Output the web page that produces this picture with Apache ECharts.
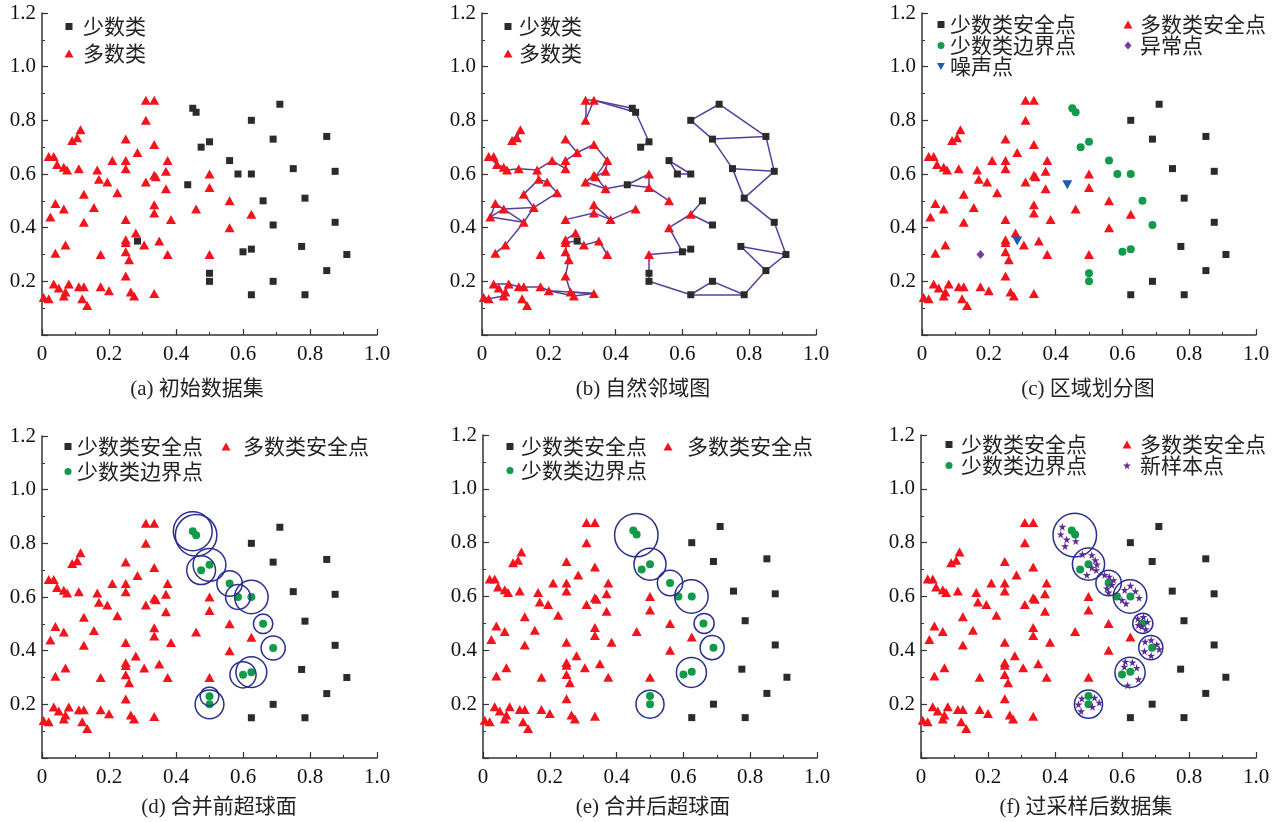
<!DOCTYPE html>
<html><head><meta charset="utf-8">
<script src="https://cdn.jsdelivr.net/npm/echarts@6/dist/echarts.min.js"></script>
<style>html,body{margin:0;padding:0;background:#fff}#c{width:1285px;height:822px}</style>
</head><body><div id="c"></div>
<script>
// ---- data ----
const minoritySafe = [[0.625,0.80],[0.71,0.86],[0.69,0.73],[0.85,0.74],[0.75,0.62],[0.875,0.61],[0.785,0.51],[0.875,0.42],[0.775,0.33],[0.91,0.30],[0.85,0.24],[0.69,0.20],[0.625,0.15],[0.785,0.15]];
const minorityBorder = [[0.45,0.845],[0.46,0.83],[0.475,0.70],[0.50,0.72],[0.56,0.65],[0.585,0.60],[0.625,0.60],[0.66,0.50],[0.69,0.41],[0.60,0.31],[0.625,0.32],[0.50,0.23],[0.50,0.20]];
const noisePoints = [[0.435,0.56],[0.285,0.35]];
const anomalyPoints = [[0.175,0.30]];
const majoritySafe = [[0.31,0.875],[0.335,0.875],[0.31,0.80],[0.115,0.765],[0.105,0.735],[0.09,0.725],[0.25,0.73],[0.335,0.71],
[0.02,0.665],[0.035,0.665],[0.045,0.635],[0.065,0.625],[0.075,0.615],[0.11,0.62],[0.165,0.615],[0.17,0.58],[0.195,0.57],[0.21,0.65],[0.25,0.65],[0.25,0.62],[0.285,0.68],[0.375,0.65],[0.37,0.61],[0.335,0.595],[0.34,0.59],[0.31,0.57],[0.37,0.545],[0.225,0.53],[0.125,0.525],
[0.04,0.49],[0.065,0.47],[0.025,0.44],[0.155,0.475],[0.125,0.42],[0.25,0.43],[0.335,0.485],[0.335,0.455],[0.385,0.43],[0.46,0.47],
[0.50,0.60],[0.50,0.55],[0.56,0.50],[0.625,0.45],[0.56,0.40],[0.50,0.30],
[0.28,0.38],[0.25,0.355],[0.25,0.345],[0.305,0.335],[0.35,0.35],[0.375,0.30],[0.25,0.31],[0.26,0.28],[0.07,0.335],[0.04,0.305],
[0.25,0.22],[0.035,0.19],[0.05,0.175],[0.08,0.19],[0.07,0.16],[0.065,0.145],[0.11,0.18],[0.125,0.18],[0.175,0.18],[0.20,0.165],[0.12,0.135],[0.135,0.11],[0.005,0.14],[0.02,0.135],[0.265,0.16],[0.275,0.145],[0.335,0.155]];
// natural neighbour edges [x1,y1,x2,y2]
const neighbourEdges = [
[0.625,0.80,0.71,0.86],[0.71,0.86,0.85,0.74],[0.625,0.80,0.69,0.73],[0.69,0.73,0.85,0.74],[0.69,0.73,0.75,0.62],[0.85,0.74,0.875,0.61],[0.75,0.62,0.875,0.61],[0.75,0.62,0.785,0.51],[0.875,0.61,0.785,0.51],[0.785,0.51,0.875,0.42],[0.875,0.42,0.91,0.30],[0.775,0.33,0.91,0.30],[0.775,0.33,0.85,0.24],[0.91,0.30,0.85,0.24],[0.85,0.24,0.785,0.15],[0.785,0.15,0.69,0.20],[0.785,0.15,0.625,0.15],[0.69,0.20,0.625,0.15],[0.625,0.15,0.50,0.20],[0.50,0.20,0.50,0.23],[0.50,0.23,0.50,0.30],[0.50,0.30,0.60,0.31],[0.60,0.31,0.625,0.32],[0.60,0.31,0.56,0.40],[0.56,0.40,0.625,0.45],[0.625,0.45,0.66,0.50],[0.625,0.45,0.69,0.41],
[0.56,0.65,0.585,0.60],[0.56,0.65,0.625,0.60],[0.585,0.60,0.625,0.60],
[0.435,0.56,0.50,0.60],[0.435,0.56,0.50,0.55],[0.50,0.60,0.50,0.55],[0.50,0.55,0.56,0.50],[0.435,0.56,0.37,0.545],
[0.31,0.875,0.335,0.875],[0.31,0.875,0.31,0.80],[0.335,0.875,0.31,0.80],[0.335,0.875,0.45,0.845],[0.335,0.875,0.46,0.83],[0.45,0.845,0.46,0.83],[0.46,0.83,0.50,0.72],[0.50,0.72,0.475,0.70],
[0.285,0.68,0.335,0.71],[0.335,0.71,0.375,0.65],[0.375,0.65,0.37,0.61],[0.375,0.65,0.34,0.59],[0.37,0.61,0.34,0.59],[0.31,0.57,0.335,0.595],[0.31,0.57,0.37,0.545],[0.34,0.59,0.37,0.545],
[0.25,0.73,0.285,0.68],[0.285,0.68,0.25,0.65],[0.25,0.65,0.25,0.62],[0.21,0.65,0.25,0.62],[0.21,0.65,0.165,0.615],[0.165,0.615,0.11,0.62],[0.11,0.62,0.075,0.615],[0.075,0.615,0.065,0.625],[0.065,0.625,0.045,0.635],[0.045,0.635,0.035,0.665],[0.02,0.665,0.035,0.665],[0.02,0.665,0.045,0.635],
[0.09,0.725,0.115,0.765],[0.105,0.735,0.115,0.765],
[0.165,0.615,0.17,0.58],[0.17,0.58,0.195,0.57],[0.195,0.57,0.225,0.53],[0.17,0.58,0.125,0.525],[0.125,0.525,0.155,0.475],[0.225,0.53,0.155,0.475],[0.155,0.475,0.065,0.47],[0.04,0.49,0.025,0.44],[0.04,0.49,0.125,0.42],[0.025,0.44,0.125,0.42],[0.065,0.47,0.025,0.44],[0.155,0.475,0.125,0.42],[0.125,0.42,0.07,0.335],[0.07,0.335,0.04,0.305],
[0.25,0.43,0.335,0.455],[0.335,0.485,0.335,0.455],[0.335,0.485,0.385,0.43],[0.335,0.455,0.385,0.43],[0.385,0.43,0.46,0.47],
[0.25,0.355,0.28,0.38],[0.28,0.38,0.285,0.35],[0.25,0.345,0.285,0.35],[0.285,0.35,0.305,0.335],[0.305,0.335,0.35,0.35],[0.35,0.35,0.375,0.30],[0.25,0.345,0.25,0.31],[0.25,0.31,0.26,0.28],[0.26,0.28,0.25,0.22],[0.25,0.22,0.265,0.16],[0.265,0.16,0.275,0.145],
[0.035,0.19,0.08,0.19],[0.035,0.19,0.05,0.175],[0.05,0.175,0.065,0.145],[0.065,0.145,0.07,0.16],[0.07,0.16,0.08,0.19],[0.08,0.19,0.11,0.18],[0.11,0.18,0.125,0.18],[0.125,0.18,0.175,0.18],[0.175,0.18,0.20,0.165],[0.20,0.165,0.275,0.145],[0.20,0.165,0.335,0.155],[0.265,0.16,0.335,0.155],[0.005,0.14,0.02,0.135],[0.02,0.135,0.065,0.145],[0.12,0.135,0.135,0.11],[0.275,0.145,0.335,0.155]
];
// hyperspheres [cx, cy, radius]
const spheresBefore = [[0.45,0.845,0.058],[0.46,0.83,0.062],[0.475,0.70,0.043],[0.50,0.72,0.049],[0.56,0.65,0.038],[0.585,0.60,0.037],[0.625,0.60,0.050],[0.66,0.50,0.029],[0.69,0.41,0.036],[0.60,0.31,0.039],[0.625,0.32,0.046],[0.50,0.23,0.028],[0.50,0.20,0.043]];
const spheresAfter = [[0.459,0.828,0.065],[0.50,0.72,0.048],[0.56,0.65,0.038],[0.624,0.60,0.050],[0.662,0.50,0.030],[0.686,0.41,0.036],[0.624,0.318,0.045],[0.50,0.20,0.042]];
const newSamples = [[0.422,0.859],[0.417,0.831],[0.435,0.812],[0.462,0.806],[0.430,0.787],
[0.482,0.757],[0.510,0.754],[0.520,0.735],[0.525,0.719],[0.510,0.707],[0.523,0.698],[0.495,0.680],
[0.548,0.680],[0.562,0.674],[0.575,0.661],[0.570,0.643],[0.555,0.630],[0.560,0.615],
[0.608,0.624],[0.625,0.640],[0.640,0.620],[0.651,0.595],[0.600,0.587],[0.612,0.574],
[0.647,0.518],[0.664,0.524],[0.676,0.506],[0.659,0.488],[0.671,0.479],[0.649,0.494],
[0.669,0.432],[0.687,0.438],[0.704,0.422],[0.711,0.404],[0.667,0.397],[0.687,0.380],
[0.610,0.358],[0.631,0.355],[0.644,0.335],[0.649,0.293],[0.617,0.270],[0.607,0.339],
[0.480,0.221],[0.470,0.199],[0.478,0.174],[0.518,0.224],[0.532,0.206],[0.512,0.190]];
const captions = ['(a) 初始数据集','(b) 自然邻域图','(c) 区域划分图','(d) 合并前超球面','(e) 合并后超球面','(f) 过采样后数据集'];
const xTicks = ['0','0.2','0.4','0.6','0.8','1.0'];
const yTicks = ['','0.2','0.4','0.6','0.8','1.0','1.2'];

// ---- styles ----
const SERIF = "'Liberation Serif','Times New Roman',serif";
const CJK = "'Noto Sans CJK SC',sans-serif";
const C_MIN = '#2b2b2b', C_MAJ = '#f2141c', C_BOR = '#12994a', C_NOI = '#1a5cb0', C_ANO = '#7b3a9c', C_NEW = '#5b2b96', C_SPH = '#2a2f8f', C_EDGE = '#5a3c9e';
const STAR = 'path://M50,0 L61,35 L98,35 L68,57 L79,91 L50,70 L21,91 L32,57 L2,35 L39,35 Z';
const DOWN = 'path://M0,0 L10,0 L5,9 Z';

const grids = [
  {left:42, top:13, width:335, height:322},
  {left:482, top:13, width:334, height:322},
  {left:922, top:13, width:334, height:322},
  {left:42, top:436, width:335, height:322},
  {left:483, top:435, width:334, height:323},
  {left:921, top:435, width:335, height:323}
];
const capPos = [[197,389],[643,389],[1088,389],[219,807],[653,807],[1086,807]];

const axLine = {show:true, onZero:false, lineStyle:{color:'#333', width:1.5}};
const xAxes = grids.map((g,i)=>({gridIndex:i, type:'value', min:0, max:1, interval:0.2,
  axisLine:axLine, axisTick:{inside:true, length:6, lineStyle:{color:'#333', width:1.2}},
  minorTick:{show:true, splitNumber:2, length:3, lineStyle:{color:'#333', width:1}},
  splitLine:{show:false},
  axisLabel:{margin:9, fontFamily:SERIF, fontSize:21, color:'#111', formatter:(v)=>xTicks[Math.round(v/0.2)]}}));
const yAxes = grids.map((g,i)=>({gridIndex:i, type:'value', min:0, max:1.2, interval:0.2,
  axisLine:axLine, axisTick:{inside:true, length:6, lineStyle:{color:'#333', width:1.2}},
  minorTick:{show:true, splitNumber:2, length:3, lineStyle:{color:'#333', width:1}},
  splitLine:{show:false},
  axisLabel:{margin:6, fontFamily:SERIF, fontSize:21, color:'#111', formatter:(v)=>yTicks[Math.round(v/0.2)]}}));

function sc(i, name, data, symbol, size, color, extra){
  return Object.assign({type:'scatter', name, xAxisIndex:i, yAxisIndex:i, data, symbol, symbolSize:size,
    itemStyle:{color, opacity:1}, z:3, silent:true, animation:false}, extra||{});
}
function spheres(i, data){
  return {type:'custom', xAxisIndex:i, yAxisIndex:i, data, silent:true, z:4, animation:false,
    encode:{x:0, y:1},
    renderItem:(params, api)=>{
      const c = api.coord([api.value(0), api.value(1)]);
      const r = api.size([api.value(2), 0])[0];
      return {type:'circle', shape:{cx:c[0], cy:c[1], r}, style:{fill:'none', stroke:C_SPH, lineWidth:1.5}};
    }};
}
const allMinority = minoritySafe.concat(minorityBorder, noisePoints);
const allMajority = majoritySafe.concat(anomalyPoints);
const TRI = [10,9];

const series = [
  // a
  sc(0,'少数类', allMinority, 'rect', 7, C_MIN),
  sc(0,'多数类', allMajority, 'triangle', TRI, C_MAJ),
  // b
  {type:'lines', coordinateSystem:'cartesian2d', xAxisIndex:1, yAxisIndex:1, silent:true, z:2, animation:false,
    data: neighbourEdges.map(e=>({coords:[[e[0],e[1]],[e[2],e[3]]]})),
    lineStyle:{color:C_EDGE, width:1.5, opacity:1}},
  sc(1,'少数类', allMinority, 'rect', 7, C_MIN),
  sc(1,'多数类', allMajority, 'triangle', TRI, C_MAJ),
  // c
  sc(2,'少数类安全点', minoritySafe, 'rect', 7, C_MIN),
  sc(2,'多数类安全点', majoritySafe, 'triangle', TRI, C_MAJ),
  sc(2,'少数类边界点', minorityBorder, 'circle', 8, C_BOR),
  sc(2,'异常点', anomalyPoints, 'diamond', [8,9], C_ANO),
  sc(2,'噪声点', noisePoints, 'triangle', TRI, C_NOI, {symbolRotate:180}),
  // d
  sc(3,'少数类安全点', minoritySafe, 'rect', 7, C_MIN),
  sc(3,'多数类安全点', allMajority, 'triangle', TRI, C_MAJ),
  sc(3,'少数类边界点', minorityBorder, 'circle', 8, C_BOR),
  spheres(3, spheresBefore),
  // e
  sc(4,'少数类安全点', minoritySafe, 'rect', 7, C_MIN),
  sc(4,'多数类安全点', allMajority, 'triangle', TRI, C_MAJ),
  sc(4,'少数类边界点', minorityBorder, 'circle', 8, C_BOR),
  spheres(4, spheresAfter),
  // f
  sc(5,'少数类安全点', minoritySafe, 'rect', 7, C_MIN),
  sc(5,'多数类安全点', allMajority, 'triangle', TRI, C_MAJ),
  sc(5,'少数类边界点', minorityBorder, 'circle', 8, C_BOR),
  sc(5,'新样本点', newSamples, STAR, 8, C_NEW, {z:5}),
  spheres(5, spheresAfter)
];

function leg(name, icon, cx, cy, tx, w, h){
  h = h || w;
  const gap = Math.max(0, tx - (cx + w/2) - 5);
  return {show:true, data:[{name, icon}], left: cx - w/2, top: cy - 12, itemWidth:w, itemHeight:h,
    padding:0, itemGap:0, selectedMode:false,
    textStyle:{fontFamily:CJK, fontSize:21, color:'#222', padding:[0,0,0,gap]}};
}
const legends = [
  leg('少数类','rect',69,28,83,7), leg('多数类','triangle',69,55,83,9,8),
  leg('少数类','rect',508,28,519,7), leg('多数类','triangle',508,55,519,9,8),
  leg('少数类安全点','rect',941,26,950,7), leg('少数类边界点','circle',941,47,950,7), leg('噪声点',DOWN,941,68,950,8,7),
  leg('多数类安全点','triangle',1128,26,1140,9,8), leg('异常点','diamond',1128,47,1140,7,8),
  leg('少数类安全点','rect',68,448,77,7), leg('少数类边界点','circle',68,473,77,7), leg('多数类安全点','triangle',226,448,243,9,8),
  leg('少数类安全点','rect',510,448,521,7), leg('少数类边界点','circle',510,472,521,7), leg('多数类安全点','triangle',668,448,687,9,8),
  leg('少数类安全点','rect',949,446,961,7), leg('少数类边界点','circle',949,467,961,7), leg('多数类安全点','triangle',1127,446,1140,9,8), leg('新样本点',STAR,1127,467,1140,8)
];

const graphic = captions.map((t,i)=>({type:'text', x:capPos[i][0], y:capPos[i][1], silent:true,
  style:{text:t, textAlign:'center', textVerticalAlign:'middle', font:"21px 'Liberation Serif','Noto Sans CJK SC',serif", fill:'#222'}}));

const chart = echarts.init(document.getElementById('c'), null, {renderer:'canvas'});
chart.setOption({backgroundColor:'#fff', animation:false, grid:grids, xAxis:xAxes, yAxis:yAxes, legend:legends, series, graphic});
</script></body></html>
